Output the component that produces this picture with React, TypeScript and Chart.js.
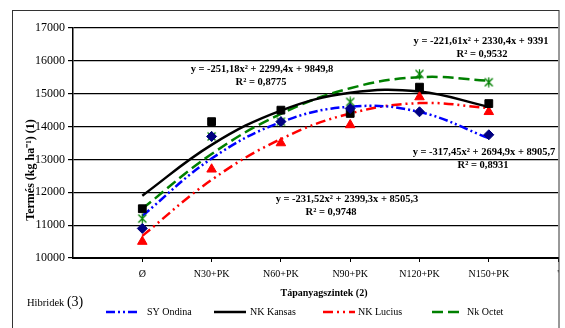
import React, { useEffect, useRef } from 'react';
import { Chart, registerables } from 'chart.js';
Chart.register(...registerables);

// ---- data ----
const categories = ['Ø', 'N30+PK', 'N60+PK', 'N90+PK', 'N120+PK', 'N150+PK', "'"];
const xValues = [1, 2, 3, 4, 5, 6];
const seriesNames = ['SY Ondina', 'NK Kansas', 'NK Lucius', 'Nk Octet'];
const syOndina = [10900, 13700, 14150, 14550, 14450, 13750];
const nkKansas = [11500, 14150, 14500, 14400, 15200, 14700];
const nkLucius = [10500, 12700, 13500, 14050, 14900, 14450];
const nkOctet = [11200, 13700, 14150, 14750, 15600, 15350];
// trend line values at each category
const trendSyOndina = [11283, 13026, 14133, 14606, 14444, 13647];
const trendNkKansas = [11898, 13444, 14487, 15029, 15067, 14604];
const trendNkLucius = [10673, 12378, 13620, 14398, 14714, 14566];
const trendNkOctet = [11500, 13165, 14388, 15167, 15503, 15395];
const equations = [
  'y = -317,45x² + 2694,9x + 8905,7',
  'y = -251,18x² + 2299,4x + 9849,8',
  'y = -231,52x² + 2399,3x + 8505,3',
  'y = -221,61x² + 2330,4x + 9391',
];
const rSquared = ['R² = 0,8931', 'R² = 0,8775', 'R² = 0,9748', 'R² = 0,9532'];
const yTitle = 'Termés (kg ha⁻¹) (1)';
const xTitle = 'Tápanyagszintek (2)';
const legendTitle = 'Hibridek';
const legendTitleNo = '(3)';

const serif = '"Liberation Serif", "Times New Roman", serif';
const colors = ['#0000FF', '#000000', '#FF0000', '#008000'];
const dashes: number[][] = [[9, 3, 2, 3, 2, 3], [], [10, 4, 2, 4, 2, 4], [11, 5]];

const pts = (ys: number[]) => ys.map((y, i) => ({ x: xValues[i], y }));

export default function App() {
  const ref = useRef<HTMLCanvasElement>(null);
  useEffect(() => {
    document.body.style.margin = '0';
    const star = document.createElement('canvas');
    star.width = 11;
    star.height = 11;
    const g = star.getContext('2d')!;
    g.strokeStyle = '#008000';
    g.lineWidth = 1.3;
    g.beginPath();
    g.moveTo(1.5, 1.5); g.lineTo(9.5, 9.5);
    g.moveTo(9.5, 1.5); g.lineTo(1.5, 9.5);
    g.moveTo(5.5, 0.5); g.lineTo(5.5, 10.5);
    g.stroke();

    const eqPos = [
      { x: 484, y: 152, rx: 483 },
      { x: 262, y: 69, rx: 261 },
      { x: 347, y: 199, rx: 331 },
      { x: 481, y: 41, rx: 482 },
    ];

    const textPlugin = {
      id: 'texts',
      beforeDraw(chart: any) {
        const ctx = chart.ctx;
        ctx.save();
        ctx.fillStyle = '#fff';
        ctx.fillRect(0, 0, chart.width, chart.height);
        ctx.restore();
      },
      afterDraw(chart: any) {
        const ctx = chart.ctx;
        ctx.save();
        // frame
        ctx.strokeStyle = '#333';
        ctx.lineWidth = 1;
        ctx.strokeRect(12.5, 10.5, 546.5, 340);
        ctx.fillStyle = '#000';
        ctx.textAlign = 'center';
        ctx.textBaseline = 'middle';
        ctx.font = `bold 10.5px ${serif}`;
        equations.forEach((e, i) => {
          ctx.fillText(e, eqPos[i].x, eqPos[i].y);
          ctx.fillText(rSquared[i], eqPos[i].rx, eqPos[i].y + 13);
        });
        // axis titles
        ctx.font = `bold 10px ${serif}`;
        ctx.fillText(xTitle, 324, 293);
        ctx.save();
        ctx.translate(31, 170);
        ctx.rotate(-Math.PI / 2);
        ctx.font = `bold 12px ${serif}`;
        ctx.fillText(yTitle, 0, 0);
        ctx.restore();
        // legend
        ctx.textAlign = 'left';
        ctx.font = `10.5px ${serif}`;
        ctx.fillText(legendTitle, 27, 303);
        const w = ctx.measureText(legendTitle + ' ').width;
        ctx.font = `14px ${serif}`;
        ctx.fillText(legendTitleNo, 27 + w, 302);
        const legendX = [106, 214, 323, 432];
        const textX = [147, 250, 358, 467];
        const ly = 312;
        seriesNames.forEach((n, i) => {
          ctx.save();
          ctx.strokeStyle = colors[i];
          ctx.lineWidth = 2.5;
          ctx.setLineDash(dashes[i]);
          ctx.beginPath();
          ctx.moveTo(legendX[i], ly);
          ctx.lineTo(legendX[i] + 32, ly);
          ctx.stroke();
          ctx.restore();
          ctx.font = `10px ${serif}`;
          ctx.fillText(n, textX[i], ly);
        });
        ctx.restore();
      },
    };

    const trends = [trendSyOndina, trendNkKansas, trendNkLucius, trendNkOctet];
    const marks = [syOndina, nkKansas, nkLucius, nkOctet];
    const markerStyle: any[] = ['rectRot', 'rect', 'triangle', star];
    const markerRadius = [5, 5.5, 5.5, 5.5];
    const markerColor = ['#000080', '#000000', '#FF0000', '#008000'];

    const datasets: any[] = [];
    trends.forEach((t, i) => {
      datasets.push({
        label: seriesNames[i] + ' trend',
        data: pts(t),
        showLine: true,
        borderColor: colors[i],
        borderWidth: 2.5,
        borderDash: dashes[i],
        pointRadius: 0,
        tension: 0.4,
        fill: false,
        order: 2,
      });
    });
    marks.forEach((m, i) => {
      datasets.push({
        label: seriesNames[i],
        data: pts(m),
        showLine: false,
        pointStyle: markerStyle[i],
        pointRadius: markerRadius[i],
        backgroundColor: markerColor[i],
        borderColor: markerColor[i],
        borderWidth: 1,
        order: 1,
      });
    });

    const chart = new Chart(ref.current!, {
      type: 'scatter',
      data: { datasets },
      plugins: [textPlugin],
      options: {
        responsive: false,
        animation: false,
        layout: { padding: { top: 28, right: 6, left: 0, bottom: 0 } },
        plugins: { legend: { display: false }, tooltip: { enabled: false } },
        scales: {
          x: {
            type: 'linear',
            min: 0,
            max: 7,
            afterBuildTicks: (axis: any) => {
              axis.ticks = categories.map((_, i) => ({ value: i + 1 }));
            },
            afterFit: (axis: any) => { axis.height = 70; },
            ticks: {
              autoSkip: false,
              maxRotation: 0,
              padding: 6,
              color: '#000',
              font: { family: serif, size: 10 },
              callback: (v: any) => categories[Math.round(v) - 1] ?? '',
            },
            grid: { display: true, drawOnChartArea: false, drawTicks: true, tickLength: 4, color: '#000' },
            border: { display: true, color: '#000', width: 2 },
          },
          y: {
            type: 'linear',
            min: 10000,
            max: 17000,
            afterFit: (axis: any) => { axis.width = 73; },
            ticks: {
              stepSize: 1000,
              padding: 3,
              color: '#000',
              font: { family: serif, size: 12 },
              callback: (v: any) => String(v),
            },
            grid: { color: '#000', lineWidth: 1.2, tickLength: 5, drawTicks: true },
            border: { display: true, color: '#000', width: 1.5 },
          },
        },
      },
    });
    return () => chart.destroy();
  }, []);
  return (
    <div style={{ width: 565, height: 328 }}>
      <canvas ref={ref} width={565} height={328} style={{ display: 'block' }} />
    </div>
  );
}
